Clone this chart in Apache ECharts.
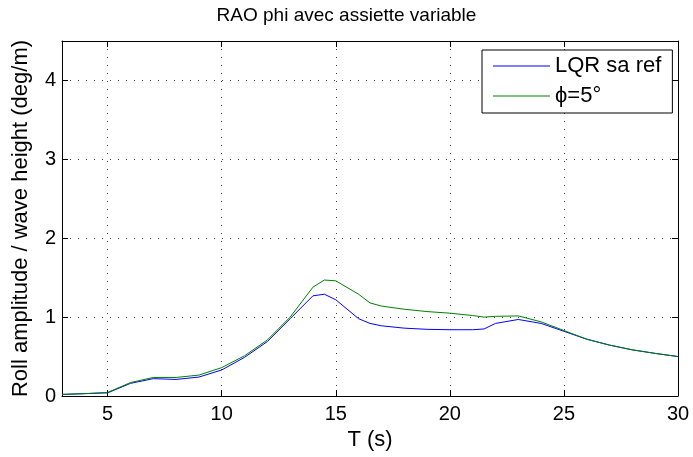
<!DOCTYPE html>
<html>
<head>
<meta charset="utf-8">
<script src="https://cdn.jsdelivr.net/npm/echarts@6/dist/echarts.min.js"></script>
<style>
html,body{margin:0;padding:0;background:#fff;}
#chart{width:693px;height:457px;}
</style>
</head>
<body>
<div id="chart"></div>
<script>
const periods = [3, 4, 5, 6, 7, 8, 9, 10, 11, 12, 13, 14, 14.5, 15, 16, 16.5, 17, 18, 19, 20, 21, 21.5, 22, 23, 24, 25, 26, 27, 28, 29, 30];
const lqrSaRef = [0.02, 0.03, 0.04, 0.16, 0.22, 0.21, 0.24, 0.33, 0.49, 0.69, 0.98, 1.27, 1.29, 1.22, 0.98, 0.92, 0.89, 0.86, 0.845, 0.84, 0.84, 0.85, 0.92, 0.97, 0.92, 0.82, 0.72, 0.645, 0.585, 0.54, 0.5];
const phi5 = [0.02, 0.03, 0.045, 0.17, 0.235, 0.235, 0.265, 0.36, 0.51, 0.71, 1.0, 1.38, 1.47, 1.46, 1.29, 1.18, 1.14, 1.10, 1.07, 1.05, 1.02, 1.0, 1.01, 1.015, 0.94, 0.83, 0.72, 0.645, 0.585, 0.54, 0.5];
const xTicks = [5, 10, 15, 20, 25, 30];
const yTicks = [0, 1, 2, 3, 4];
const seriesNames = ['LQR sa ref', '\u03D5=5\u00B0'];
const titleText = 'RAO phi avec assiette variable';
const xName = 'T (s)';
const yName = 'Roll amplitude / wave height (deg/m)';

const FONT = 'Liberation Sans, Arial, Helvetica, sans-serif';
const gridStyle = {show: true, lineStyle: {color: '#000', width: 1, type: [1, 7], opacity: 0.75}};
const axisLineStyle = {show: true, onZero: false, lineStyle: {color: '#000', width: 1}};

function toPairs(vals) { return periods.map((t, i) => [t, vals[i]]); }

const chart = echarts.init(document.getElementById('chart'), null, {renderer: 'canvas'});
chart.setOption({
  animation: false,
  backgroundColor: '#fff',
  title: {
    text: titleText, left: 'center', top: 1,
    textStyle: {fontFamily: FONT, fontSize: 19, fontWeight: 'normal', color: '#000'}
  },
  grid: {left: 62, right: 15, top: 41, bottom: 61, containLabel: false},
  legend: {
    left: 482, top: 50, orient: 'vertical',
    data: seriesNames,
    icon: 'rect',
    itemWidth: 57, itemHeight: 1, itemGap: 8,
    padding: [5, 11, 6, 11],
    borderColor: '#000', borderWidth: 1, backgroundColor: '#fff',
    textStyle: {fontFamily: FONT, fontSize: 22, color: '#000'}
  },
  xAxis: [{
    type: 'value', min: 3, max: 30, position: 'bottom',
    name: xName, nameLocation: 'middle', nameGap: 31,
    nameTextStyle: {fontFamily: FONT, fontSize: 22, color: '#000'},
    axisLine: axisLineStyle,
    axisTick: {show: true, inside: true, length: 6, customValues: xTicks, lineStyle: {color: '#000'}},
    axisLabel: {customValues: xTicks, margin: 8, fontFamily: FONT, fontSize: 20, color: '#000'},
    splitLine: gridStyle
  }, {
    type: 'value', min: 3, max: 30, position: 'top',
    axisLine: axisLineStyle,
    axisTick: {show: true, inside: true, length: 6, customValues: xTicks, lineStyle: {color: '#000'}},
    axisLabel: {show: false},
    splitLine: {show: false}
  }],
  yAxis: [{
    type: 'value', min: 0, max: 4.5, position: 'left',
    name: yName, nameLocation: 'middle', nameGap: 30,
    nameTextStyle: {fontFamily: FONT, fontSize: 22, color: '#000'},
    axisLine: axisLineStyle,
    axisTick: {show: true, inside: true, length: 6, customValues: yTicks, lineStyle: {color: '#000'}},
    axisLabel: {customValues: yTicks, margin: 6, fontFamily: FONT, fontSize: 20, color: '#000'},
    splitLine: gridStyle
  }, {
    type: 'value', min: 0, max: 4.5, position: 'right',
    axisLine: axisLineStyle,
    axisTick: {show: true, inside: true, length: 6, customValues: yTicks, lineStyle: {color: '#000'}},
    axisLabel: {show: false},
    splitLine: {show: false}
  }],
  series: [{
    name: seriesNames[0], type: 'line', data: toPairs(lqrSaRef),
    symbol: 'none', lineStyle: {color: '#0000ff', width: 1}, itemStyle: {color: '#0000ff'}
  }, {
    name: seriesNames[1], type: 'line', data: toPairs(phi5),
    symbol: 'none', lineStyle: {color: '#008000', width: 1}, itemStyle: {color: '#008000'}
  }]
});
</script>
</body>
</html>
